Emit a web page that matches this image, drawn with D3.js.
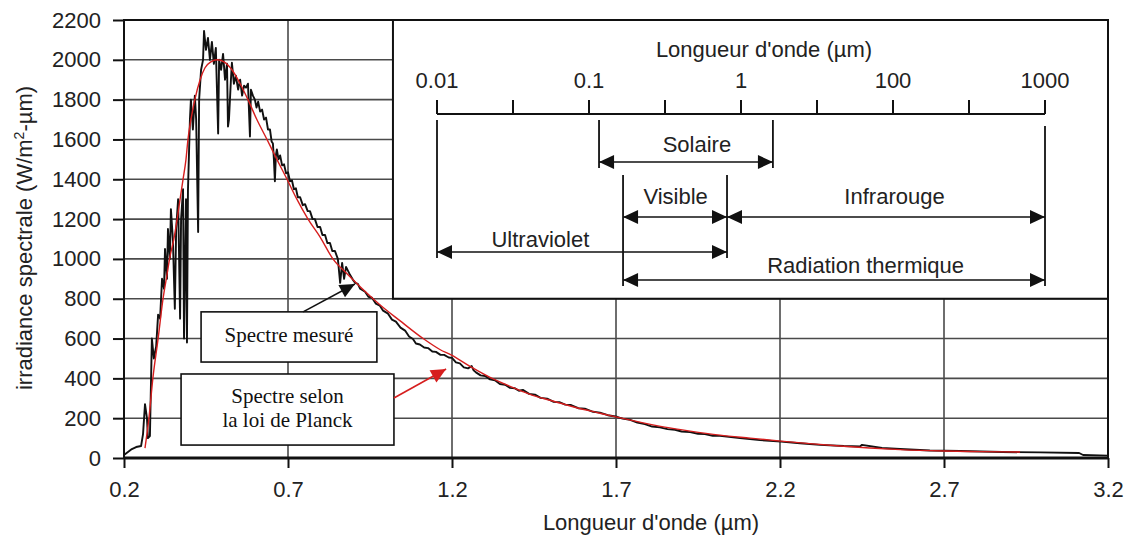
<!DOCTYPE html>
<html>
<head>
<meta charset="utf-8">
<script src="https://cdn.jsdelivr.net/npm/d3@7"></script>
<style>
  html, body { margin: 0; padding: 0; background: #fff; }
  svg { display: block; }
  text { font-family: "Liberation Sans", Arial, sans-serif; fill: #222; }
  text.serif { font-family: "Liberation Serif", "Times New Roman", serif; fill: #111; }
</style>
</head>
<body>
<div id="chart"></div>
<script>
const measuredWl = [0.2, 0.212, 0.224, 0.237, 0.252, 0.258, 0.264, 0.27, 0.273, 0.279,
  0.285, 0.291, 0.298, 0.304, 0.31, 0.316, 0.322, 0.325, 0.331, 0.334,
  0.34, 0.343, 0.349, 0.355, 0.359, 0.365, 0.371, 0.374, 0.38, 0.383,
  0.389, 0.392, 0.395, 0.401, 0.404, 0.41, 0.416, 0.42, 0.426, 0.429,
  0.435, 0.441, 0.444, 0.45, 0.456, 0.462, 0.468, 0.474, 0.48, 0.487,
  0.49, 0.496, 0.502, 0.508, 0.514, 0.517, 0.52, 0.526, 0.529, 0.535,
  0.541, 0.548, 0.554, 0.56, 0.566, 0.572, 0.578, 0.584, 0.587, 0.593,
  0.599, 0.604, 0.609, 0.615, 0.621, 0.627, 0.633, 0.639, 0.645, 0.65,
  0.654, 0.657, 0.66, 0.663, 0.666, 0.671, 0.676, 0.682, 0.688, 0.694,
  0.7, 0.706, 0.712, 0.718, 0.724, 0.73, 0.737, 0.745, 0.752, 0.76,
  0.767, 0.775, 0.782, 0.79, 0.798, 0.805, 0.813, 0.82, 0.828, 0.835,
  0.843, 0.852, 0.859, 0.865, 0.871, 0.877, 0.889, 0.898, 0.905, 0.913,
  0.92, 0.935, 0.945, 0.956, 0.968, 0.98, 0.99, 1.005, 1.017, 1.029,
  1.043, 1.057, 1.069, 1.081, 1.09, 1.102, 1.115, 1.127, 1.14, 1.151,
  1.165, 1.176, 1.19, 1.2, 1.212, 1.224, 1.236, 1.249, 1.26, 1.266,
  1.273, 1.287, 1.301, 1.316, 1.331, 1.346, 1.362, 1.377, 1.392, 1.404,
  1.416, 1.435, 1.453, 1.47, 1.49, 1.51, 1.529, 1.545, 1.563, 1.585,
  1.605, 1.63, 1.651, 1.675, 1.703, 1.72, 1.743, 1.765, 1.788, 1.81,
  1.834, 1.857, 1.88, 1.9, 1.926, 1.95, 1.971, 1.995, 2.017, 2.078,
  2.139, 2.203, 2.261, 2.322, 2.395, 2.444, 2.45, 2.511, 2.566, 2.657,
  2.749, 2.877, 2.993, 3.112, 3.124, 3.2];
const measuredVal = [15, 30, 45, 55, 60, 120, 270, 200, 100, 110,
  600, 500, 560, 720, 700, 900, 850, 1050, 900, 1150,
  1000, 1250, 1100, 750, 1150, 1300, 700, 1200, 1350, 600,
  1300, 580, 1345, 1700, 1800, 1650, 1820, 1700, 1135, 1800,
  1950, 2000, 2145, 2050, 2110, 2000, 2090, 1980, 2060, 1630,
  2000, 1950, 2030, 1900, 1980, 1665, 1700, 1900, 1985, 1880,
  1920, 1850, 1900, 1820, 1870, 1860, 1880, 1615, 1850, 1820,
  1800, 1760, 1790, 1740, 1750, 1700, 1710, 1650, 1650, 1590,
  1580, 1500, 1390, 1520, 1550, 1500, 1520, 1470, 1475, 1430,
  1435, 1390, 1395, 1350, 1355, 1310, 1310, 1270, 1275, 1240,
  1240, 1200, 1200, 1160, 1160, 1120, 1120, 1080, 1080, 1040,
  1040, 1000, 880, 980, 900, 960, 920, 895, 880, 875,
  850, 835, 810, 805, 775, 765, 740, 725, 695, 685,
  655, 640, 610, 598, 575, 570, 555, 552, 535, 533,
  518, 518, 505, 503, 480, 475, 455, 450, 462, 440,
  430, 415, 412, 395, 390, 372, 368, 352, 350, 338,
  342, 322, 318, 302, 298, 282, 280, 268, 266, 250,
  248, 232, 228, 215, 207, 198, 192, 178, 170, 158,
  154, 145, 142, 133, 130, 122, 120, 112, 111, 100,
  90, 82, 74, 66, 60, 58, 66, 50, 45, 38,
  35, 30, 28, 25, 15, 12];

// Spectrum according to Planck's law
const planckWl = [0.264, 0.276, 0.288, 0.304, 0.319, 0.331, 0.34, 0.352, 0.362, 0.371,
  0.38, 0.389, 0.395, 0.404, 0.416, 0.432, 0.447, 0.465, 0.484, 0.505,
  0.529, 0.554, 0.578, 0.605, 0.636, 0.666, 0.697, 0.727, 0.761, 0.798,
  0.837, 0.88, 0.92, 0.98, 1.041, 1.112, 1.163, 1.2, 1.255, 1.316,
  1.377, 1.438, 1.499, 1.575, 1.651, 1.703, 1.773, 1.849, 1.926, 2.017,
  2.109, 2.203, 2.291, 2.383, 2.474, 2.566, 2.7, 2.81, 2.932];
const planckVal = [50, 200, 400, 600, 800, 920, 1010, 1100, 1200, 1300,
  1400, 1500, 1600, 1700, 1800, 1900, 1960, 1990, 2000, 1990,
  1950, 1880, 1800, 1700, 1600, 1500, 1400, 1300, 1200, 1110,
  1000, 925, 860, 770, 690, 600, 545, 515, 460, 405,
  360, 320, 290, 255, 225, 205, 180, 155, 135, 115,
  100, 85, 72, 60, 50, 42, 35, 32, 30];

const xTicks = [0.2, 0.7, 1.2, 1.7, 2.2, 2.7, 3.2];
const yTicks = [0, 200, 400, 600, 800, 1000, 1200, 1400, 1600, 1800, 2000, 2200];

// Inset: wavelength ranges on the inset's own (uneven) scale, one unit per label
const insetLabels = ['0.01', '0.1', '1', '100', '1000'];
const bandNames = ['Solaire', 'Visible', 'Infrarouge', 'Ultraviolet', 'Radiation thermique'];
const bandStart = [1.066, 1.224, 1.908, 0, 1.224];
const bandEnd = [2.21, 1.908, 4, 1.908, 4];
const bandLabelAt = [1.71, 1.57, 3.01, 0.68, 2.82];

const width = 1131, height = 538;

const svg = d3.select('#chart')
    .append('svg')
    .attr('width', width)
    .attr('height', height);

const x = d3.scaleLinear().domain([0.2, 3.2]).range([124, 1108]);
const y = d3.scaleLinear().domain([0, 2200]).range([458, 20]);

const ink = '#111';
const gridColor = '#4a4a4a';

// Grid
svg.append('g')
    .selectAll('line')
    .data(yTicks.slice(1, -1))
    .enter()
    .append('line')
    .attr('x1', x(0.2)).attr('x2', x(3.2))
    .attr('y1', d => y(d)).attr('y2', d => y(d))
    .style('stroke', gridColor)
    .style('stroke-width', 1.6);

svg.append('g')
    .selectAll('line')
    .data(xTicks.slice(1, -1))
    .enter()
    .append('line')
    .attr('x1', d => x(d)).attr('x2', d => x(d))
    .attr('y1', y(0)).attr('y2', y(2200))
    .style('stroke', gridColor)
    .style('stroke-width', 1.6);

// Axes
const yAxis = svg.append('g')
    .attr('transform', `translate(${x(0.2)},0)`)
    .call(d3.axisLeft(y).tickValues(yTicks).tickSize(11).tickPadding(12).tickFormat(d3.format('d')));
const xAxis = svg.append('g')
    .attr('transform', `translate(0,${y(0)})`)
    .call(d3.axisBottom(x).tickValues(xTicks).tickSize(10).tickPadding(13).tickFormat(d3.format('.1f')));

[xAxis, yAxis].forEach(a => {
    a.select('.domain').remove();
    a.selectAll('.tick line').style('stroke', ink).style('stroke-width', 2);
    a.selectAll('.tick text')
        .style('font-family', '"Liberation Sans", Arial, sans-serif')
        .style('font-size', '22px')
        .style('fill', '#222');
});

// Curves
const line = d3.line().x(d => x(d[0])).y(d => y(d[1]));

svg.append('path')
    .datum(d3.zip(measuredWl, measuredVal))
    .attr('d', line)
    .style('fill', 'none')
    .style('stroke', ink)
    .style('stroke-width', 1.9)
    .style('stroke-linejoin', 'round');

svg.append('path')
    .datum(d3.zip(planckWl, planckVal))
    .attr('d', line.curve(d3.curveMonotoneX))
    .style('fill', 'none')
    .style('stroke', '#d61e1e')
    .style('stroke-width', 1.4);

// Frame
svg.append('rect')
    .attr('x', x(0.2)).attr('y', y(2200))
    .attr('width', x(3.2) - x(0.2)).attr('height', y(0) - y(2200))
    .style('fill', 'none')
    .style('stroke', ink)
    .style('stroke-width', 2);
svg.append('line')
    .attr('x1', x(0.2)).attr('x2', x(3.2))
    .attr('y1', y(0)).attr('y2', y(0))
    .style('stroke', ink)
    .style('stroke-width', 3);

// Axis titles
svg.append('text')
    .attr('x', 651).attr('y', 530)
    .attr('text-anchor', 'middle')
    .style('font-size', '22px')
    .text('Longueur d\'onde (\u00b5m)');

const yTitle = svg.append('text')
    .attr('transform', 'translate(32,238) rotate(-90)')
    .attr('text-anchor', 'middle')
    .style('font-size', '22px');
yTitle.append('tspan').text('irradiance spectrale (W/m');
yTitle.append('tspan').attr('dy', -8).style('font-size', '14px').text('2');
yTitle.append('tspan').attr('dy', 8).text('-\u00b5m)');

// Arrowhead triangle pointing along (dx, dy) with its tip at (tx, ty)
function headPoints(tx, ty, dx, dy, len, wid) {
    const n = Math.hypot(dx, dy);
    dx /= n; dy /= n;
    const bx = tx - dx * len, by = ty - dy * len;
    return [[tx, ty], [bx - dy * wid / 2, by + dx * wid / 2], [bx + dy * wid / 2, by - dx * wid / 2]];
}

function arrow(g, x1, y1, x2, y2, color, both) {
    g.append('line')
        .attr('x1', x1).attr('y1', y1).attr('x2', x2).attr('y2', y2)
        .style('stroke', color)
        .style('stroke-width', 1.6);
    g.append('polygon')
        .attr('points', headPoints(x2, y2, x2 - x1, y2 - y1, 15, 14).join(' '))
        .style('fill', color);
    if (both) {
        g.append('polygon')
            .attr('points', headPoints(x1, y1, x1 - x2, y1 - y2, 15, 14).join(' '))
            .style('fill', color);
    }
}

// Inset with the wavelength bands
const inset = svg.append('g');
inset.append('rect')
    .attr('x', x(1.02)).attr('y', y(2200))
    .attr('width', x(3.2) - x(1.02)).attr('height', y(800) - y(2200))
    .style('fill', '#fff')
    .style('stroke', ink)
    .style('stroke-width', 2);

const ix = d3.scaleLinear().domain([0, insetLabels.length - 1]).range([437, 1045]);
const axisY = 114;

inset.append('text')
    .attr('x', 764).attr('y', 57)
    .attr('text-anchor', 'middle')
    .style('font-size', '22px')
    .text('Longueur d\'onde (\u00b5m)');

inset.append('line')
    .attr('x1', ix(0)).attr('x2', ix(insetLabels.length - 1))
    .attr('y1', axisY).attr('y2', axisY)
    .style('stroke', ink).style('stroke-width', 2);

inset.selectAll('.itick')
    .data(d3.range(0, insetLabels.length - 0.99, 0.5))
    .enter()
    .append('line')
    .attr('x1', d => ix(d)).attr('x2', d => ix(d))
    .attr('y1', axisY).attr('y2', axisY - 14)
    .style('stroke', ink).style('stroke-width', 2);

inset.selectAll('.ilabel')
    .data(insetLabels)
    .enter()
    .append('text')
    .attr('x', (d, i) => ix(i)).attr('y', 88)
    .attr('text-anchor', 'middle')
    .style('font-size', '22px')
    .text(d => d);

// rows: arrow y and label baseline per band
const rowArrowY = [162, 217, 217, 252, 280];
const rowLabelY = [152, 204, 204, 247, 273];

// drop lines from the axis to the arrows: [position, top, bottom]
const drops = [
    [bandStart[0], 120, 168], [bandEnd[0], 120, 168],
    [bandStart[1], 175, 286], [bandEnd[1], 175, 258],
    [bandStart[3], 120, 258], [bandEnd[2], 126, 286]
];
inset.selectAll('.drop')
    .data(drops)
    .enter()
    .append('line')
    .attr('x1', d => ix(d[0])).attr('x2', d => ix(d[0]))
    .attr('y1', d => d[1]).attr('y2', d => d[2])
    .style('stroke', ink).style('stroke-width', 1.8);

bandNames.forEach((name, i) => {
    arrow(inset, ix(bandStart[i]), rowArrowY[i], ix(bandEnd[i]), rowArrowY[i], ink, true);
    inset.append('text')
        .attr('x', ix(bandLabelAt[i])).attr('y', rowLabelY[i])
        .attr('text-anchor', 'middle')
        .style('font-size', '22px')
        .text(name);
});

// Annotation boxes, placed in data coordinates
const notes = svg.append('g');

function noteBox(x0, x1, v0, v1, lines, baselines) {
    notes.append('rect')
        .attr('x', x(x0)).attr('y', y(v0))
        .attr('width', x(x1) - x(x0)).attr('height', y(v1) - y(v0))
        .style('fill', '#fff')
        .style('stroke', ink)
        .style('stroke-width', 1.6);
    lines.forEach((t, i) => {
        notes.append('text')
            .attr('class', 'serif')
            .attr('x', (x(x0) + x(x1)) / 2).attr('y', y(baselines[i]))
            .attr('text-anchor', 'middle')
            .style('font-size', '21px')
            .text(t);
    });
}

noteBox(0.435, 0.971, 734, 482, ['Spectre mesur\u00e9'], [583]);
noteBox(0.374, 1.023, 422, 65, ['Spectre selon', 'la loi de Planck'], [276, 156]);

arrow(notes, x(0.746), y(734), x(0.904), y(874), ink, false);
arrow(notes, x(1.023), y(301), x(1.182), y(447), '#d61e1e', false);
</script>
</body>
</html>
